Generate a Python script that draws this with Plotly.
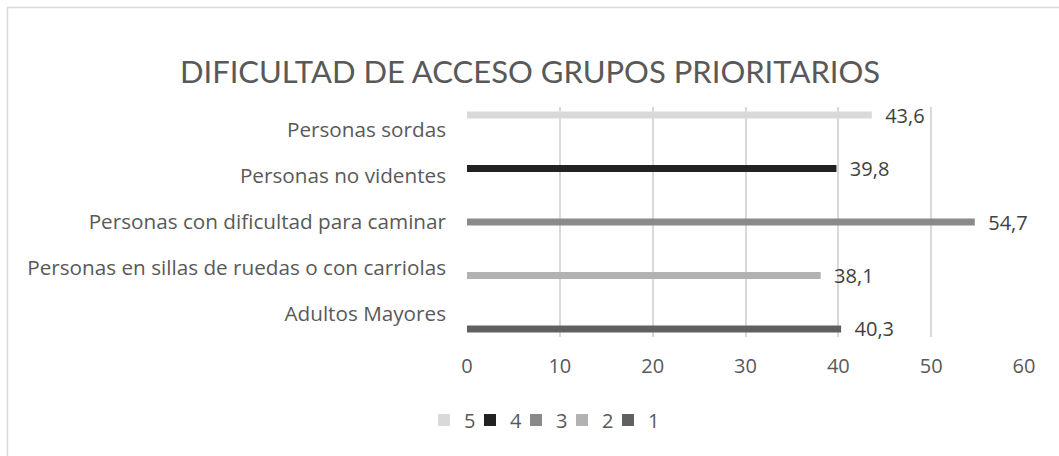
import plotly.graph_objects as go

categories = ["Adultos Mayores",
              "Personas en sillas de ruedas o con carriolas",
              "Personas con dificultad para caminar",
              "Personas no videntes",
              "Personas sordas"]
series_names = ["1", "2", "3", "4", "5"]
values = [40.3, 38.1, 54.7, 39.8, 43.6]
colors = ["#606060", "#b2b2b2", "#8a8a8a", "#222222", "#d9d9d9"]
x_ticks = [0, 10, 20, 30, 40, 50, 60]

FONT = "Open Sans"
TFONT = "Lato"
TXT = "#595959"

fig = go.Figure()
# invisible spacer entry so the last legend label is not clipped
fig.add_trace(go.Scatter(x=[None], y=[None], mode="none", name=" ",
                         showlegend=True, hoverinfo="skip"))
for i, name in enumerate(series_names):
    xs = [None] * len(categories)
    xs[i] = values[i]
    texts = [""] * len(categories)
    texts[i] = "\u00a0\u00a0" + f"{values[i]:.1f}".replace(".", ",")
    fig.add_trace(go.Bar(
        y=categories, x=xs, name=name, orientation="h",
        marker=dict(color=colors[i], line=dict(width=0)),
        text=texts, textposition="outside", constraintext="none",
        cliponaxis=False,
        textfont=dict(family=FONT, size=20, color="#404040"),
        hoverinfo="skip",
    ))

fig.update_layout(
    width=1059, height=456,
    margin=dict(l=467, r=35, t=107, b=119),
    paper_bgcolor="white", plot_bgcolor="white",
    barmode="group", bargap=0.185, bargroupgap=0.05,
    separators=",.",
    font=dict(family=FONT, color=TXT),
    title=dict(text="DIFICULTAD DE ACCESO GRUPOS PRIORITARIOS",
               xref="container", x=0.5005, xanchor="center",
               yref="container", y=1 - 72 / 456, yanchor="middle",
               font=dict(family=TFONT, size=31, color=TXT)),
    xaxis=dict(range=[0, 60], tickvals=x_ticks, showgrid=True,
               gridcolor="#d9d9d9", gridwidth=1.5, zeroline=False,
               showline=False, ticks="", ticklabelstandoff=15,
               tickfont=dict(family=FONT, size=20, color=TXT)),
    yaxis=dict(type="category", categoryorder="array", categoryarray=categories,
               showgrid=False, zeroline=False, showline=False, ticks="",
               ticklabelstandoff=20,
               tickfont=dict(family=FONT, size=20.7, color=TXT)),
    legend=dict(orientation="h", traceorder="reversed",
                x=(424 - 467) / 557, xanchor="left",
                y=(337 - 420) / 230, yanchor="middle",
                font=dict(family=FONT, size=20, color=TXT),
                itemwidth=30, entrywidth=1, entrywidthmode="pixels",
                bgcolor="rgba(0,0,0,0)"),
    showlegend=True,
    shapes=[dict(type="rect", xref="paper", yref="paper",
                 x0=(7.5 - 467) / 557, x1=1.2,
                 y0=-0.7, y1=(337 - 7.5) / 230,
                 line=dict(color="#d9d9d9", width=1.5), layer="below")],
)

fig.write_html("out.html", config={"displayModeBar": False},
               post_script="document.body.style.margin='0';")
